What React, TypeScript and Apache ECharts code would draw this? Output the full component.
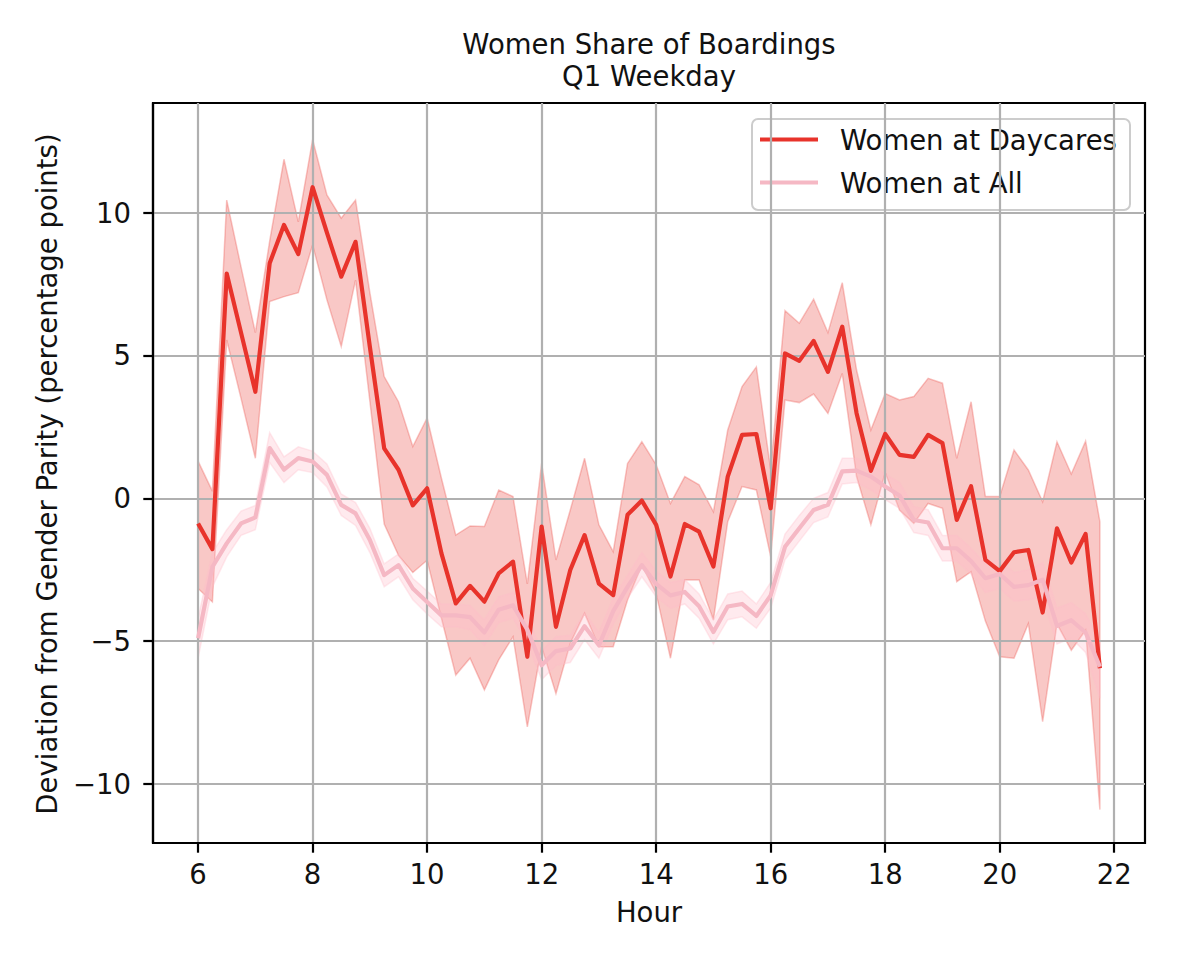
import React, { useEffect, useRef } from "react";
import * as echarts from "echarts";

// ---- data ----
const hours = [
  6, 6.25, 6.5, 6.75, 7, 7.25, 7.5, 7.75, 8, 8.25, 8.5, 8.75,
  9, 9.25, 9.5, 9.75, 10, 10.25, 10.5, 10.75, 11, 11.25, 11.5, 11.75,
  12, 12.25, 12.5, 12.75, 13, 13.25, 13.5, 13.75, 14, 14.25, 14.5, 14.75,
  15, 15.25, 15.5, 15.75, 16, 16.25, 16.5, 16.75, 17, 17.25, 17.5, 17.75,
  18, 18.25, 18.5, 18.75, 19, 19.25, 19.5, 19.75, 20, 20.25, 20.5, 20.75,
  21, 21.25, 21.5, 21.75,
];

const daycareMean = [
  -0.88, -1.78, 7.87, 5.8, 3.73, 8.23, 9.57, 8.55, 10.89, 9.3, 7.76, 8.98,
  5.3, 1.75, 1.0, -0.25, 0.35, -1.93, -3.68, -3.07, -3.62, -2.63, -2.22, -5.55,
  -0.99, -4.5, -2.51, -1.29, -2.99, -3.39, -0.58, -0.08, -0.93, -2.74, -0.9, -1.17,
  -2.39, 0.76, 2.22, 2.25, -0.35, 5.07, 4.81, 5.51, 4.43, 6.01, 2.98, 0.96,
  2.25, 1.52, 1.45, 2.22, 1.93, -0.76, 0.42, -2.16, -2.55, -1.89, -1.81, -4.0,
  -1.05, -2.25, -1.25, -5.95,
];

const daycareUpper = [
  1.3, 0.25, 10.44, 8.1, 5.8, 9.0, 11.87, 9.68, 12.56, 10.62, 9.81, 10.44,
  7.2, 4.26, 3.38, 1.81, 2.81, 0.7, -1.29, -0.97, -0.99, 0.29, 0.06, -3.0,
  1.22, -2.16, -0.41, 1.4, -0.93, -1.87, 1.22, 1.98, 1.17, -0.18, 0.76, 0.47,
  -0.47, 2.39, 3.91, 4.6, 1.0, 6.57, 6.13, 6.97, 5.8, 7.55, 4.49, 2.39,
  3.67, 3.44, 3.56, 4.2, 4.03, 1.4, 3.38, 0.06, 0.06, 1.69, 0.99, -0.12,
  1.98, 0.85, 2.0, -0.82,
];

const daycareLower = [
  -3.16, -3.63, 5.54, 3.5, 1.4, 6.89, 7.06, 7.2, 8.87, 6.95, 5.31, 7.64,
  3.4, -0.9, -2.0, -2.6, -2.17, -4.2, -6.19, -5.6, -6.71, -5.66, -4.85, -8.0,
  -5.2, -6.84, -5.08, -4.03, -5.2, -5.2, -3.56, -2.34, -3.33, -5.6, -2.86, -2.86,
  -4.26, -0.82, 0.41, 0.29, -2.04, 3.44, 3.35, 3.65, 2.97, 4.37, 0.76, -0.93,
  0.9, -0.41, -0.88, -0.18, -0.35, -2.92, -2.57, -4.3, -5.55, -5.6, -4.39, -7.82,
  -4.4, -5.32, -4.62, -10.9,
];

const allMean = [
  -4.9, -2.4, -1.58, -0.88, -0.67, 1.76, 1.0, 1.41, 1.29, 0.82, -0.23, -0.53,
  -1.46, -2.69, -2.34, -3.16, -3.63, -4.1, -4.1, -4.16, -4.7, -3.9, -3.75, -4.6,
  -5.85, -5.35, -5.26, -4.48, -5.15, -3.95, -3.1, -2.34, -3.0, -3.4, -3.28, -3.78,
  -4.68, -3.79, -3.7, -4.12, -3.4, -1.7, -1.05, -0.41, -0.23, 0.94, 0.97, 0.76,
  0.41, 0.1, -0.76, -0.85, -1.75, -1.75, -2.2, -2.8, -2.65, -3.1, -3.04, -2.85,
  -4.47, -4.27, -4.7, -5.9,
];

const allUpper = [
  -4.2, -1.9, -1.1, -0.45, -0.25, 2.3, 1.45, 1.8, 1.65, 1.2, 0.15, -0.15,
  -1.05, -2.3, -1.95, -2.8, -3.25, -3.7, -3.7, -3.75, -4.25, -3.45, -3.3, -4.15,
  -5.35, -4.85, -4.8, -4.0, -4.7, -3.5, -2.7, -1.9, -2.55, -2.95, -2.85, -3.35,
  -4.25, -3.35, -3.25, -3.7, -2.95, -1.25, -0.6, 0.0, 0.2, 1.4, 1.4, 1.2,
  0.85, 0.55, -0.3, -0.4, -1.3, -1.3, -1.75, -2.3, -2.15, -2.6, -2.5, -2.25,
  -3.85, -3.65, -4.05, -5.0,
];

const allLower = [
  -5.6, -3.1, -2.05, -1.3, -1.1, 1.25, 0.55, 1.0, 0.9, 0.4, -0.6, -0.95,
  -1.9, -3.1, -2.75, -3.55, -4.05, -4.5, -4.5, -4.6, -5.15, -4.35, -4.2, -5.05,
  -6.35, -5.85, -5.75, -4.95, -5.6, -4.4, -3.5, -2.75, -3.45, -3.85, -3.7, -4.2,
  -5.1, -4.25, -4.15, -4.55, -3.85, -2.15, -1.5, -0.85, -0.65, 0.5, 0.55, 0.3,
  -0.05, -0.35, -1.2, -1.3, -2.2, -2.2, -2.65, -3.3, -3.15, -3.6, -3.55, -3.45,
  -5.1, -4.9, -5.4, -7.0,
];

const xTicks = [6, 8, 10, 12, 14, 16, 18, 20, 22];
const yTicks = [-10, -5, 0, 5, 10];

const titleLines = ["Women Share of Boardings", "Q1 Weekday"];
const seriesNames = ["Women at Daycares", "Women at All"];
const xLabel = "Hour";
const yLabel = "Deviation from Gender Parity (percentage points)";

// ---- styles ----
const FONT = "DejaVu Sans";
const FS = 27.5;
const TEXT = "#111";
const RED = "#e8332b";
const RED_FILL = "rgba(232,51,43,0.27)";
const PINK = "#f5b8c4";
const PINK_FILL = "rgba(255,190,202,0.32)";

export default function App() {
  const ref = useRef<HTMLDivElement>(null);

  useEffect(() => {
    if (!ref.current) return;
    const chart = echarts.init(ref.current, null, { renderer: "svg" });

    const band = (upper: number[], lower: number[], fill: string) => ({
      type: "custom",
      z: -1,
      silent: true,
      clip: true,
      data: [[hours[0], upper[0]]],
      renderItem: (_params: any, api: any) => {
        const pts: number[][] = [];
        for (let i = 0; i < hours.length; i++) pts.push(api.coord([hours[i], upper[i]]));
        for (let i = hours.length - 1; i >= 0; i--) pts.push(api.coord([hours[i], lower[i]]));
        return {
          type: "polygon",
          shape: { points: pts },
          style: { fill, stroke: fill, lineWidth: 1.5 },
        };
      },
    });

    const line = (vals: number[], color: string, name: string) => ({
      type: "line",
      name,
      silent: true,
      z: 3,
      symbol: "none",
      data: hours.map((h, i) => [h, vals[i]]),
      lineStyle: { color, width: 4.2, join: "round" },
      itemStyle: { color },
    });

    const fmtY = (v: number) => (v < 0 ? "\u2212" + Math.abs(v) : String(v));

    chart.setOption({
      animation: false,
      backgroundColor: "#fff",
      grid: {
        left: 145,
        top: 95,
        width: 992,
        height: 740,
        show: true,
        borderColor: "#000",
        borderWidth: 2.2,
        backgroundColor: "transparent",
      },
      xAxis: {
        type: "value",
        min: 5.2125,
        max: 22.5375,
        axisLine: { show: true, onZero: false, lineStyle: { color: "#000", width: 2.2 } },
        axisTick: { show: true, length: 9.7, customValues: xTicks, lineStyle: { color: "#000", width: 2.2 } },
        axisLabel: {
          customValues: xTicks,
          fontFamily: FONT,
          fontSize: FS,
          color: TEXT,
          margin: 17,
        },
        splitLine: { show: true, lineStyle: { color: "#b0b0b0", width: 2.2 } },
      },
      yAxis: {
        type: "value",
        min: -12.07,
        max: 13.84,
        axisLine: { show: true, onZero: false, lineStyle: { color: "#000", width: 2.2 } },
        axisTick: { show: true, length: 9.7, customValues: yTicks, lineStyle: { color: "#000", width: 2.2 } },
        axisLabel: {
          customValues: yTicks,
          fontFamily: FONT,
          fontSize: FS,
          color: TEXT,
          margin: 22,
          formatter: fmtY,
        },
        splitLine: { show: true, lineStyle: { color: "#b0b0b0", width: 2.2 } },
      },
      series: [
        band(daycareUpper, daycareLower, RED_FILL),
        band(allUpper, allLower, PINK_FILL),
        line(daycareMean, RED, seriesNames[0]),
        line(allMean, PINK, seriesNames[1]),
      ],
      graphic: [
        {
          type: "text",
          x: 641,
          y: 36,
          style: { text: titleLines[0], fontFamily: FONT, fontSize: FS, fill: TEXT, align: "center", verticalAlign: "middle" },
        },
        {
          type: "text",
          x: 641,
          y: 68,
          style: { text: titleLines[1], fontFamily: FONT, fontSize: FS, fill: TEXT, align: "center", verticalAlign: "middle" },
        },
        {
          type: "text",
          x: 641,
          y: 904,
          style: { text: xLabel, fontFamily: FONT, fontSize: FS, fill: TEXT, align: "center", verticalAlign: "middle" },
        },
        {
          type: "text",
          x: 39,
          y: 466,
          rotation: Math.PI / 2,
          style: { text: yLabel, fontFamily: FONT, fontSize: FS, fill: TEXT, align: "center", verticalAlign: "middle" },
        },
        {
          type: "group",
          z: 100,
          children: [
            {
              type: "rect",
              shape: { x: 744, y: 111, width: 378, height: 91, r: 6 },
              style: { fill: "rgba(255,255,255,0.8)", stroke: "#cccccc", lineWidth: 2 },
            },
            {
              type: "line",
              shape: { x1: 752, y1: 131.5, x2: 810, y2: 131.5 },
              style: { stroke: RED, lineWidth: 4.2 },
            },
            {
              type: "line",
              shape: { x1: 752, y1: 174.5, x2: 810, y2: 174.5 },
              style: { stroke: PINK, lineWidth: 4.2 },
            },
            {
              type: "text",
              x: 832,
              y: 131.5,
              style: { text: seriesNames[0], fontFamily: FONT, fontSize: FS, fill: TEXT, align: "left", verticalAlign: "middle" },
            },
            {
              type: "text",
              x: 832,
              y: 174.5,
              style: { text: seriesNames[1], fontFamily: FONT, fontSize: FS, fill: TEXT, align: "left", verticalAlign: "middle" },
            },
          ],
        },
      ],
    });

    return () => chart.dispose();
  }, []);

  return <div ref={ref} style={{ width: 1180, height: 946 }} />;
}
